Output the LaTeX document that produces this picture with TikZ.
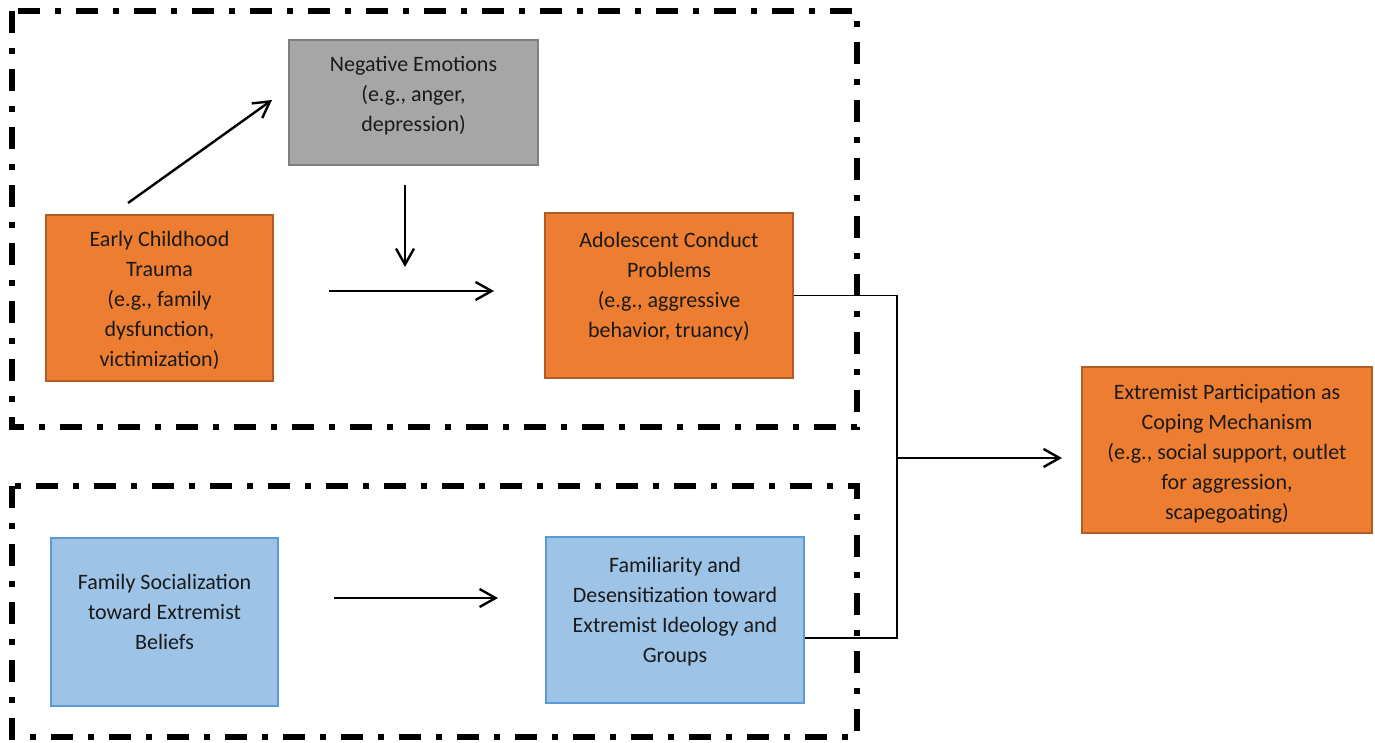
\documentclass[tikz,border=0pt]{standalone}
\usepackage{fontspec}
\setmainfont{Carlito}
\usetikzlibrary{arrows.meta,calc}
\definecolor{orfill}{HTML}{ED7D31}
\definecolor{ordraw}{HTML}{B05C25}
\definecolor{grfill}{HTML}{A6A6A6}
\definecolor{grdraw}{HTML}{7F7F7F}
\definecolor{blfill}{HTML}{9DC3E6}
\definecolor{bldraw}{HTML}{5B9BD5}
\definecolor{txtcol}{HTML}{1A1A1A}
\begin{document}
\begin{tikzpicture}[x=0.5pt,y=-0.5pt,
  frame/.style={line width=3pt, dash pattern=on 11pt off 7.5pt on 3pt off 7.5pt},
  obox/.style={draw=ordraw, fill=orfill, line width=1pt, inner sep=0pt},
  gbox/.style={draw=grdraw, fill=grfill, line width=1pt, inner sep=0pt},
  bbox/.style={draw=bldraw, fill=blfill, line width=1pt, inner sep=0pt},
  txt/.style={align=center, font=\fontsize{11pt}{15pt}\selectfont, text=txtcol, inner sep=0pt},
  arr/.style={-{Straight Barb[length=8pt,width=9pt]}, line width=1.2pt},
  link/.style={line width=0.75pt}]
\useasboundingbox (0,0) rectangle (1375,743);
% frames
\draw[frame] (12,11) rectangle (857,427);
\draw[frame] (12,486) rectangle (857,737);
% boxes
\node[gbox, minimum width=124.5pt, minimum height=62.5pt] (ne) at (413.5,102.5) {};
\node[obox, minimum width=113.5pt, minimum height=83pt] (ect) at (159.5,298) {};
\node[obox, minimum width=124pt, minimum height=82.5pt] (acp) at (669,295.5) {};
\node[bbox, minimum width=113.5pt, minimum height=84pt] (fs) at (164.5,622) {};
\node[bbox, minimum width=129pt, minimum height=83pt] (fd) at (675,620) {};
\node[obox, minimum width=145pt, minimum height=83pt] (ep) at (1227,450) {};
% texts
\node[txt] (ne-t) at (413.5,96) {Negative Emotions\\(e.g., anger,\\depression)};
\node[txt] (ect-t) at (159.5,300) {Early Childhood\\Trauma\\(e.g., family\\dysfunction,\\victimization)};
\node[txt] (acp-t) at (669,286.5) {Adolescent Conduct\\Problems\\(e.g., aggressive\\behavior, truancy)};
\node[txt] (fs-t) at (164.5,612) {Family Socialization\\toward Extremist\\Beliefs};
\node[txt] (fd-t) at (675,611.5) {Familiarity and\\Desensitization toward\\Extremist Ideology and\\Groups};
\node[txt] (ep-t) at (1227,453.5) {Extremist Participation as\\Coping Mechanism\\(e.g., social support, outlet\\for aggression,\\scapegoating)};
% arrows
\coordinate (d1) at (128,203);
\coordinate (d2) at (272,100);
\draw[arr] (d1) -- (d2);
\coordinate (v1) at (405,185);
\coordinate (v2) at (405,267);
\draw[arr] (v1) -- (v2);
\coordinate (h1) at (329,291);
\coordinate (h2) at (494,291);
\draw[arr] (h1) -- (h2);
\coordinate (h3) at (334,598);
\coordinate (h4) at (498,598);
\draw[arr] (h3) -- (h4);
% bracket
\coordinate (j1) at (897,295.5);
\coordinate (j2) at (897,638);
\coordinate (jm) at (897,458);
\coordinate (je) at (1062,458);
\draw[link] (acp.east) -- (j1) -- (j2) -- (fd.east |- j2);
\draw[arr] (jm) -- (je);
\end{tikzpicture}
\end{document}
